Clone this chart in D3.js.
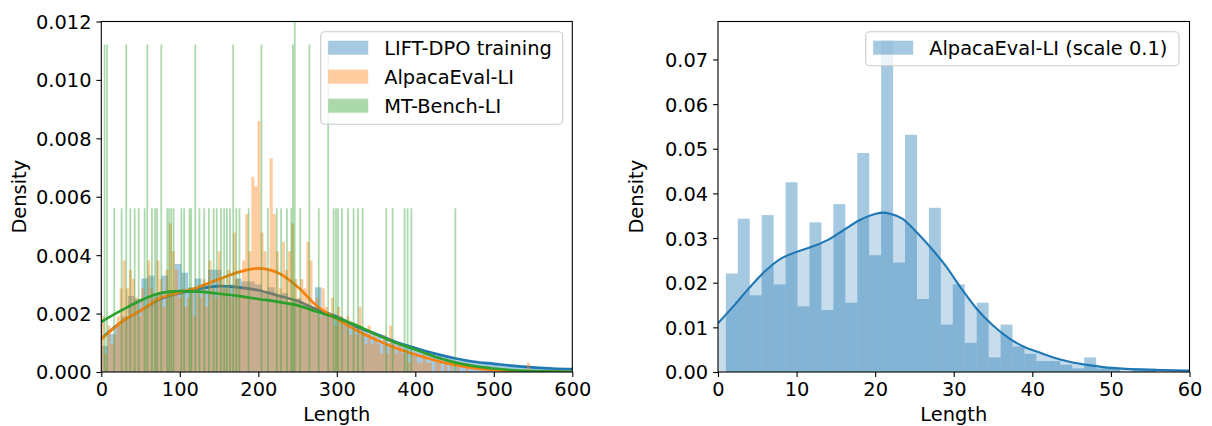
<!DOCTYPE html>
<html>
<head>
<meta charset="utf-8">
<script src="https://cdn.jsdelivr.net/npm/d3@7"></script>
<style>
  body { margin: 0; background: #fff; }
  svg { display: block; font-family: "DejaVu Sans", sans-serif; }
</style>
</head>
<body>
<svg width="1212" height="426"></svg>
<script>
/* global d3 */

const seriesNames = ["LIFT-DPO training", "AlpacaEval-LI", "MT-Bench-LI"];
const seriesColors = ["#1f77b4", "#ff7f0e", "#2ca02c"];
const rightName = "AlpacaEval-LI (scale 0.1)";

const leftXTicks = [0, 100, 200, 300, 400, 500, 600];
const leftYTicks = [0, 0.002, 0.004, 0.006, 0.008, 0.01, 0.012];
const rightXTicks = [0, 10, 20, 30, 40, 50, 60];
const rightYTicks = [0, 0.01, 0.02, 0.03, 0.04, 0.05, 0.06, 0.07];

// LIFT-DPO training: density per bin, bins of 8.5 starting at 0
const liftBinWidth = 8.5;
const liftDensity = [
  0.0009, 0.0013, 0.0016, 0.0019, 0.0026, 0.0025, 0.0032, 0.0033, 0.0027, 0.0033,
  0.0028, 0.0037, 0.0034, 0.0029, 0.0032, 0.0030, 0.0035, 0.0035, 0.0029, 0.0030,
  0.0032, 0.0031, 0.0031, 0.0030, 0.0027, 0.0029, 0.0026, 0.0027, 0.0024, 0.0025,
  0.0023, 0.0022, 0.0029, 0.0020, 0.0019, 0.0018, 0.0017, 0.0016, 0.0015, 0.0014,
  0.0013, 0.0012, 0.0011, 0.0010, 0.00095, 0.0009, 0.0008, 0.00075, 0.0007, 0.0006,
  0.00055, 0.0005, 0.00045, 0.0004, 0.00038, 0.00035, 0.00032, 0.0003, 0.00027, 0.00025,
  0.00023, 0.00021, 0.0002, 0.00018, 0.00016, 0.00015, 0.00014, 0.00013, 0.00012, 0.00011,
  0.0001
];

// AlpacaEval-LI: counts per bin, bins of 3.9 starting at 0
const alpacaBinWidth = 3.9;
const alpacaTotal = 806;
const alpacaCounts = [
  6, 2, 5, 3, 4, 6, 9, 12, 9, 11, 10, 8, 6, 9, 7, 12, 9, 8, 12, 10,
  7, 11, 16, 13, 11, 8, 9, 7, 8, 9, 6, 9, 8, 10, 7, 12, 9, 8, 13, 10,
  9, 11, 8, 15, 10, 9, 12, 17, 13, 21, 20, 27, 15, 13, 11, 23, 17, 13, 9, 14,
  11, 13, 16, 10, 8, 10, 9, 14, 12, 7, 8, 6, 9, 7, 6, 8, 5, 7, 6, 5,
  6, 4, 5, 4, 7, 4, 3, 5, 3, 4, 3, 2, 4, 2, 5, 3, 2, 3, 2, 2,
  1, 2, 2, 1, 1, 2, 1, 1, 0, 1, 1, 0, 1, 0, 1, 0, 1, 0, 0, 1,
  0, 0, 0, 0, 0, 0, 0, 0, 0, 0, 0, 0, 0, 0, 0, 0, 0, 0, 0, 1
];

// MT-Bench-LI: occupied bins (centre) and their counts, bins of 2.23
const mtBinWidth = 2.23;
const mtTotal = 80;
const mtBarX = [
  4.2, 7.3, 16.5, 25.8, 31.8, 37, 42.5, 47.6, 55.2, 58.6, 64.5, 68.5, 71, 76.4,
  84, 86.5, 89.2, 92.1, 102, 105.5, 112.3, 114.5, 119.7, 125, 131.2, 137, 143.1,
  147, 152.5, 156.5, 160, 164, 168, 172, 176, 187.7, 204, 212.3, 223.5, 229,
  236.5, 242, 244.2, 246.4, 253.5, 265, 277, 289, 296, 299, 301.5, 306.6, 314.2,
  321.4, 327, 332.9, 363, 371.1, 386.4, 390.2, 394.9, 451
];
const mtBarCount = [
  2, 2, 1, 1, 2, 1, 1, 1, 1, 2, 1, 1, 1, 2,
  1, 1, 1, 1, 1, 1, 1, 1, 2, 1, 1, 1, 1,
  1, 1, 1, 1, 1, 2, 1, 1, 1, 2, 1, 1, 1,
  1, 1, 2, 3, 1, 2, 1, 2, 1, 1, 1, 1, 1,
  1, 1, 1, 1, 1, 1, 1, 1, 1
];

// KDE curves
const kdeX = [0, 25, 50, 75, 100, 125, 150, 175, 200, 225, 250, 275, 300,
  325, 350, 375, 400, 425, 450, 475, 500, 525, 550, 575, 600];
const liftKde = [0.00115, 0.0017, 0.0021, 0.0025, 0.0027, 0.00285, 0.00294, 0.0029, 0.0028,
  0.00262, 0.00243, 0.00214, 0.0019, 0.00155, 0.0013, 0.00103, 0.00082, 0.00063, 0.00047,
  0.00035, 0.00028, 0.00021, 0.00016, 0.00012, 0.0001];
const alpacaKde = [0.00112, 0.0017, 0.0021, 0.00253, 0.00272, 0.00292, 0.00318, 0.00342, 0.00355,
  0.0034, 0.00292, 0.00225, 0.00182, 0.00143, 0.0011, 0.00082, 0.0006, 0.0004, 0.00024,
  0.00013, 0.00007, 0.00004, 0.00002, 0.00001, 0];
const mtKde = [0.00172, 0.0021, 0.00245, 0.0027, 0.00277, 0.00275, 0.00268, 0.0026, 0.0025,
  0.0024, 0.00228, 0.00206, 0.00185, 0.0016, 0.00128, 0.001, 0.00077, 0.00052, 0.00033,
  0.0002, 0.00012, 0.00006, 0.00003, 0.00001, 0];

// right panel: AlpacaEval-LI scaled by 0.1, counts per bin of 1.52 starting at 1.0
const rightBinStart = 1.0;
const rightBinWidth = 1.52;
const rightTotal = 805;
const rightCounts = [27, 42, 21, 43, 24, 52, 18, 41, 17, 46, 19, 60, 32, 91, 30, 65, 20, 45,
  13, 24, 8, 19, 4, 13, 7, 5, 3, 3, 2, 1, 4, 1, 1, 0, 1, 1];
const rightKdeX = [0, 2, 4, 6, 8, 10, 12, 14, 16, 18, 20, 21, 22, 23.5, 25, 27, 29, 31, 33,
  35, 37, 39, 41, 43, 45, 47, 49, 52, 55, 60];
const rightKde = [0.0109, 0.0148, 0.0189, 0.0226, 0.0254, 0.0269, 0.0281, 0.0296, 0.0318,
  0.034, 0.0354, 0.0357, 0.0354, 0.0343, 0.0318, 0.028, 0.0237, 0.0186, 0.014, 0.0104,
  0.0076, 0.0056, 0.0043, 0.0031, 0.0022, 0.0016, 0.0011, 0.0007, 0.0005, 0.0003];

const svg = d3.select("svg");
const fontSize = 19.4;

function makePanel(id, box, xDomain, yDomain) {
  const x = d3.scaleLinear().domain(xDomain).range([box.left, box.right]);
  const y = d3.scaleLinear().domain(yDomain).range([box.bottom, box.top]);
  svg.append("clipPath").attr("id", id)
    .append("rect")
    .attr("x", box.left).attr("y", box.top)
    .attr("width", box.right - box.left).attr("height", box.bottom - box.top);
  const plot = svg.append("g").attr("clip-path", "url(#" + id + ")");
  return { x, y, plot, box };
}

function drawBars(p, bars, color, opacity) {
  p.plot.append("g")
    .selectAll("rect")
    .data(bars.filter(d => d.h > 0))
    .enter()
    .append("rect")
    .attr("x", d => p.x(d.x0))
    .attr("width", d => p.x(d.x1) - p.x(d.x0))
    .attr("y", d => p.y(d.h))
    .attr("height", d => p.y(0) - p.y(d.h))
    .attr("fill", color)
    .attr("fill-opacity", opacity);
}

function drawCurve(p, xs, ys, color, width) {
  const line = d3.line()
    .x(d => p.x(d[0]))
    .y(d => p.y(d[1]))
    .curve(d3.curveMonotoneX);
  p.plot.append("path")
    .datum(xs.map((v, i) => [v, ys[i]]))
    .attr("d", line)
    .attr("fill", "none")
    .attr("stroke", color)
    .attr("stroke-width", width)
    .attr("stroke-linejoin", "round");
}

function drawAxes(p, xTicks, yTicks, yFormat) {
  const b = p.box;
  const gx = svg.append("g")
    .attr("transform", "translate(0," + b.bottom + ")")
    .call(d3.axisBottom(p.x).tickValues(xTicks).tickFormat(d3.format("d"))
      .tickSize(4.9).tickPadding(4.9).tickSizeOuter(0));
  const gy = svg.append("g")
    .attr("transform", "translate(" + b.left + ",0)")
    .call(d3.axisLeft(p.y).tickValues(yTicks).tickFormat(d3.format(yFormat))
      .tickSize(4.9).tickPadding(4.9).tickSizeOuter(0));
  [gx, gy].forEach(g => {
    g.select(".domain").remove();
    g.attr("font-family", "DejaVu Sans").attr("font-size", fontSize);
    g.selectAll("line").attr("stroke", "#000").attr("stroke-width", 1.1);
    g.selectAll("text").attr("fill", "#000");
  });
  gy.selectAll("text").attr("dy", "0.36em");

  svg.append("rect")
    .attr("x", b.left).attr("y", b.top)
    .attr("width", b.right - b.left).attr("height", b.bottom - b.top)
    .attr("fill", "none").attr("stroke", "#000").attr("stroke-width", 1.1);

  svg.append("text")
    .attr("x", (b.left + b.right) / 2).attr("y", 421)
    .attr("text-anchor", "middle").attr("font-size", fontSize)
    .text("Length");
  svg.append("text")
    .attr("transform", "translate(" + (b.left - 75.5) + "," + (b.top + b.bottom) / 2 + ") rotate(-90)")
    .attr("text-anchor", "middle").attr("font-size", fontSize)
    .text("Density");
}

function drawLegend(box, names, colors) {
  const g = svg.append("g");
  g.append("rect")
    .attr("x", box.x).attr("y", box.y)
    .attr("width", box.w).attr("height", box.h)
    .attr("rx", 4).attr("ry", 4)
    .attr("fill", "#fff").attr("fill-opacity", 0.8)
    .attr("stroke", "#cccccc").attr("stroke-width", 1.1);
  const row = g.selectAll(".row")
    .data(names)
    .enter()
    .append("g")
    .attr("transform", (d, i) => "translate(0," + (box.y + 16 + i * 29) + ")");
  row.append("rect")
    .attr("x", box.x + 7.5).attr("y", -7)
    .attr("width", 40).attr("height", 14)
    .attr("fill", (d, i) => colors[i]).attr("fill-opacity", 0.4);
  row.append("text")
    .attr("x", box.x + 63.5).attr("y", 7)
    .attr("font-size", fontSize)
    .text(d => d);
}

// ---- left panel
const left = makePanel("clipL", { left: 101.3, right: 572.3, top: 21.5, bottom: 372 }, [0, 600], [0, 0.012]);

drawBars(left, liftDensity.map((h, i) => ({ x0: i * liftBinWidth, x1: (i + 1) * liftBinWidth, h })),
  seriesColors[0], 0.4);
drawCurve(left, kdeX, liftKde, seriesColors[0], 2.7);

drawBars(left, alpacaCounts.map((c, i) => ({
  x0: i * alpacaBinWidth, x1: (i + 1) * alpacaBinWidth, h: c / (alpacaTotal * alpacaBinWidth)
})), seriesColors[1], 0.4);
drawCurve(left, kdeX, alpacaKde, seriesColors[1], 2.7);

drawBars(left, mtBarX.map((v, i) => ({
  x0: v - mtBinWidth / 2, x1: v + mtBinWidth / 2, h: mtBarCount[i] / (mtTotal * mtBinWidth)
})), seriesColors[2], 0.4);
drawCurve(left, kdeX, mtKde, seriesColors[2], 2.7);

drawAxes(left, leftXTicks, leftYTicks, ".3f");
drawLegend({ x: 320.7, y: 31.7, w: 242, h: 92.6 }, seriesNames, seriesColors);

// ---- right panel
const right = makePanel("clipR", { left: 718, right: 1189.5, top: 21.5, bottom: 372 }, [0, 60], [0, 0.0785]);

drawBars(right, rightCounts.map((c, i) => ({
  x0: rightBinStart + i * rightBinWidth,
  x1: rightBinStart + (i + 1) * rightBinWidth,
  h: c / (rightTotal * rightBinWidth)
})), seriesColors[0], 0.4);

right.plot.append("path")
  .datum(rightKdeX.map((v, i) => [v, rightKde[i]]))
  .attr("d", d3.area()
    .x(d => right.x(d[0]))
    .y0(right.y(0))
    .y1(d => right.y(d[1]))
    .curve(d3.curveMonotoneX))
  .attr("fill", seriesColors[0])
  .attr("fill-opacity", 0.25);
drawCurve(right, rightKdeX, rightKde, seriesColors[0], 2.1);

drawAxes(right, rightXTicks, rightYTicks, ".2f");
drawLegend({ x: 865.7, y: 31.7, w: 313.3, h: 34 }, [rightName], [seriesColors[0]]);
</script>
</body>
</html>
